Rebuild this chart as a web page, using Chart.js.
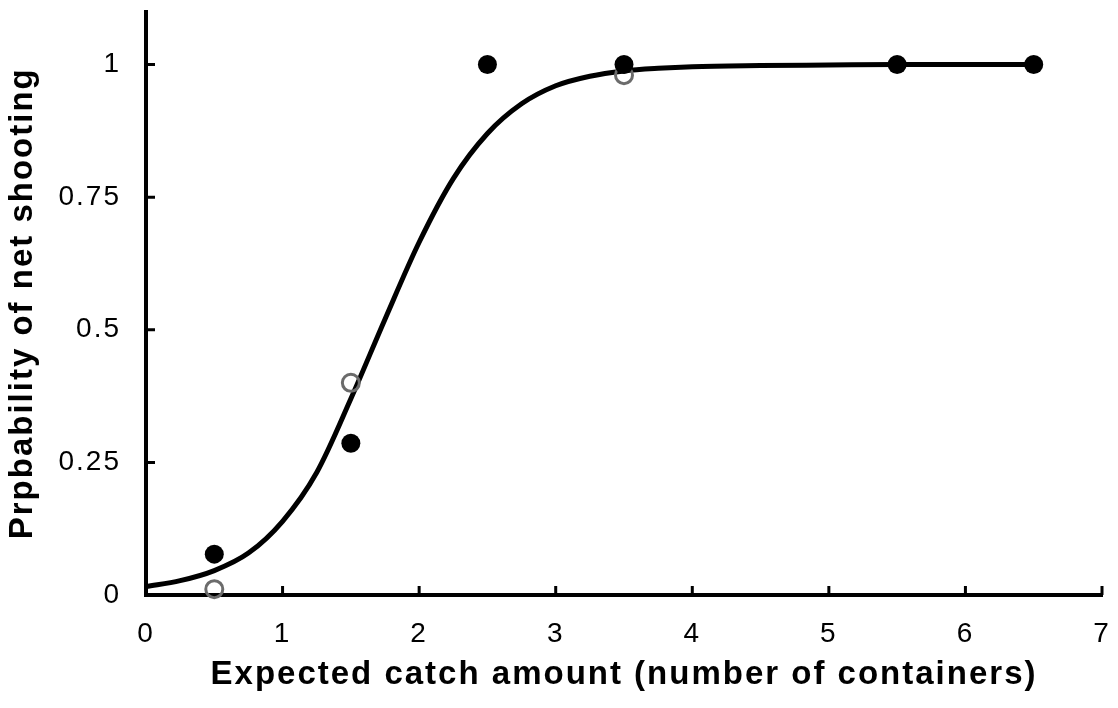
<!DOCTYPE html>
<html>
<head>
<meta charset="utf-8">
<script src="https://cdn.jsdelivr.net/npm/chart.js@4.4.0/dist/chart.umd.min.js"></script>
<style>
  html, body { margin: 0; padding: 0; background: #fff; }
</style>
</head>
<body>
<canvas id="chart" width="1118" height="708"></canvas>
<script>
// fitted curve
const curveX = [0, 0.25, 0.5, 0.75, 1, 1.25, 1.5, 1.75, 2, 2.25, 2.5, 2.75, 3, 3.25, 3.5, 3.75, 4, 4.5, 5, 5.5, 6, 6.5];
const curveY = [0.016, 0.027, 0.046, 0.079, 0.139, 0.231, 0.37, 0.52, 0.665, 0.785, 0.87, 0.926, 0.96, 0.978, 0.988, 0.993, 0.996, 0.998, 0.999, 1, 1, 1];

// observed (filled) and second group (open)
const filledX = [0.5, 1.5, 2.5, 3.5, 5.5, 6.5];
const filledY = [0.077, 0.286, 1, 1, 1, 1];
const openX = [0.5, 1.5, 3.5];
const openY = [0.011, 0.40, 0.98];

const xTicks = [0, 1, 2, 3, 4, 5, 6, 7];
const yTicks = [0, 0.25, 0.5, 0.75, 1];

const FONT = "'Liberation Sans', Arial, sans-serif";
const TICK_LEN = 9;

const toPoints = (xs, ys) => xs.map((x, i) => ({ x, y: ys[i] }));

// Excel-style short tick marks pointing into the plot
const inwardTicks = {
  id: 'inwardTicks',
  beforeDatasetsDraw(chart) {
    const { ctx, scales: { x, y } } = chart;
    ctx.save();
    ctx.strokeStyle = '#000';
    ctx.lineWidth = 3;
    ctx.beginPath();
    x.ticks.forEach(t => {
      const px = x.getPixelForValue(t.value);
      ctx.moveTo(px, y.bottom);
      ctx.lineTo(px, y.bottom - TICK_LEN);
    });
    y.ticks.forEach(t => {
      const py = y.getPixelForValue(t.value);
      ctx.moveTo(x.left, py);
      ctx.lineTo(x.left + TICK_LEN, py);
    });
    ctx.stroke();
    ctx.restore();
  }
};

// the reference text is wide; spread letters a little
const textSpacing = {
  id: 'textSpacing',
  beforeDraw(chart) { chart.ctx.letterSpacing = '2px'; }
};

function noPadding(scale) {
  scale.paddingTop = 0;
  scale.paddingBottom = 0;
  scale.paddingLeft = 0;
  scale.paddingRight = 0;
}

new Chart(document.getElementById('chart'), {
  type: 'scatter',
  data: {
    datasets: [
      {
        label: 'filled',
        data: toPoints(filledX, filledY),
        pointRadius: 9.5,
        pointBackgroundColor: '#000',
        pointBorderColor: '#000',
        pointBorderWidth: 0,
        clip: false
      },
      {
        label: 'open',
        data: toPoints(openX, openY),
        pointRadius: 8.5,
        pointBackgroundColor: 'rgba(255,255,255,0)',
        pointBorderColor: '#6b6b6b',
        pointBorderWidth: 3,
        clip: false
      },
      {
        label: 'fit',
        data: toPoints(curveX, curveY),
        showLine: true,
        pointRadius: 0,
        borderColor: '#000',
        borderWidth: 5,
        cubicInterpolationMode: 'monotone',
        clip: false
      }
    ]
  },
  options: {
    responsive: false,
    animation: false,
    layout: { padding: { left: 0, right: 16, top: 8, bottom: 0 } },
    plugins: {
      legend: { display: false },
      tooltip: { enabled: false }
    },
    scales: {
      x: {
        type: 'linear',
        min: 0,
        max: 7,
        afterBuildTicks: s => { s.ticks = xTicks.map(v => ({ value: v })); },
        afterFit: s => { s.height = 113; noPadding(s); },
        grid: { display: false, drawTicks: false },
        border: { color: '#000', width: 4 },
        ticks: {
          color: '#000',
          padding: 22,
          font: { family: FONT, size: 28 },
          callback: v => String(v)
        },
        title: {
          display: true,
          text: 'Expected catch amount (number of containers)',
          color: '#000',
          font: { family: FONT, size: 33, weight: 'bold' },
          padding: { top: 0, bottom: 13 }
        }
      },
      y: {
        type: 'linear',
        min: 0,
        max: 1.1,
        afterBuildTicks: s => { s.ticks = yTicks.map(v => ({ value: v })); },
        afterFit: s => { s.width = 146; noPadding(s); },
        grid: { display: false, drawTicks: false },
        border: { color: '#000', width: 4 },
        ticks: {
          color: '#000',
          padding: 25,
          font: { family: FONT, size: 28 },
          callback: v => String(v)
        },
        title: {
          display: true,
          text: 'Prpbability of net shooting',
          color: '#000',
          font: { family: FONT, size: 33, weight: 'bold' },
          padding: { top: 3, bottom: 0 }
        }
      }
    }
  },
  plugins: [inwardTicks, textSpacing]
});
</script>
</body>
</html>
